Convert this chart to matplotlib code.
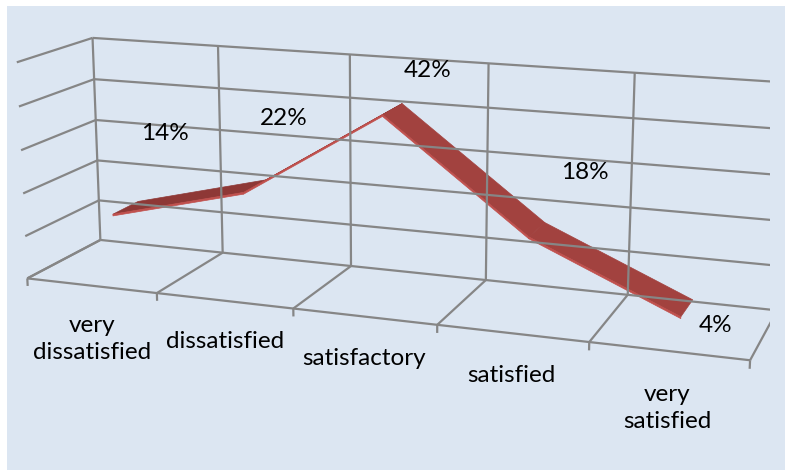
import matplotlib
matplotlib.use('Agg')
import matplotlib.pyplot as plt
from matplotlib.patches import Rectangle
from mpl_toolkits.mplot3d.art3d import Poly3DCollection
import numpy as np

categories = ['very\ndissatisfied', 'dissatisfied', 'satisfactory', 'satisfied', 'very\nsatisfied']
values = [14, 22, 42, 18, 4]
labels = ['14%', '22%', '42%', '18%', '4%']
value_ticks = [0, 10, 20, 30, 40, 50]

# where excel dropped the data labels (nudges in category / value units)
label_dx = [0.06, 0.0, 0.07, 0.18, 0.1]
label_dz = [14, 12, 5.4, 9, -9]

bg = '#DCE6F2'
grid_c = '#868686'
top_up = '#8E3836'
top_down = '#A2423F'
edge_c = '#C0504D'

plt.rcParams['font.family'] = ['Lato', 'DejaVu Sans']

fig = plt.figure(figsize=(7.85, 4.70), dpi=100)
fig.patches.append(Rectangle((7 / 785, 0), 1, 464 / 470, transform=fig.transFigure,
                             facecolor=bg, edgecolor='none', zorder=-5))

ax = fig.add_axes([-0.0096, -0.2428, 0.991, 1.655], projection='3d', computed_zorder=False)
ax.set_zorder(2)
ax.set_facecolor('none')
ax.set_axis_off()
n = len(categories)
zmax = value_ticks[-1]

# walls and floor grid
gk = dict(color=grid_c, lw=1.6, solid_capstyle='butt')
for z in value_ticks:
    ax.plot([0, n], [1, 1], [z, z], **gk)
    ax.plot([0, 0], [0, 1], [z, z], **gk)
for i in range(n + 1):
    ax.plot([i, i], [1, 1], [0, zmax], **gk)
    ax.plot([i, i], [0, 1], [0, 0], **gk)
    ax.plot([i, i], [0, 0], [0, -1.8], **gk)
ax.plot([0, n], [0, 0], [0, 0], **gk)

# ribbon
xs = np.arange(n) + 0.5
y0, y1 = 0.32, 0.68
h = 0.4
for i in range(n - 1):
    xa, xb = xs[i], xs[i + 1]
    va, vb = values[i], values[i + 1]
    top = [(xa, y0, va), (xb, y0, vb), (xb, y1, vb), (xa, y1, va)]
    front = [(xa, y0, va - h), (xb, y0, vb - h), (xb, y0, vb), (xa, y0, va)]
    c = top_up if vb > va else top_down
    ax.add_collection3d(Poly3DCollection([top], facecolor=c, edgecolor=c, lw=0.5), autolim=False)
    ax.add_collection3d(Poly3DCollection([front], facecolor=edge_c, edgecolor=edge_c, lw=0.5), autolim=False)

for i in range(n):
    ax.text(xs[i] + label_dx[i], 1, values[i] + label_dz[i], labels[i],
            ha='center', va='center', fontsize=17.5, color='black')
for x, c in zip(xs, categories):
    ax.text(x, 0, -7, c, ha='center', va='top', fontsize=17.5, linespacing=1.35, color='black')

ax.set_xlim(0, n)
ax.set_ylim(0, 1)
ax.set_zlim(0, zmax)
ax.set_box_aspect((1, 0.21, 0.304))
ax.view_init(elev=14, azim=-70)
ax.set_proj_type('persp', focal_length=0.45)

fig.savefig('out.png', dpi=100)
